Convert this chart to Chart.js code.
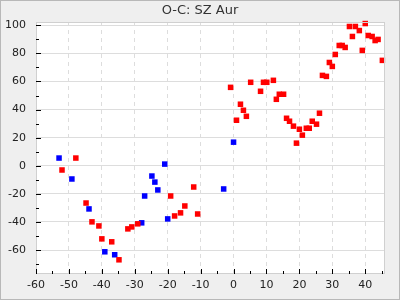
<!DOCTYPE html>
<html>
<head>
<meta charset="utf-8">
<script src="https://cdn.jsdelivr.net/npm/chart.js@4/dist/chart.umd.min.js"></script>
<style>
  html, body { margin: 0; padding: 0; background: #efefef; }
  #wrap { width: 400px; height: 300px; position: relative; }
  canvas { display: block; }
</style>
</head>
<body>
<div id="wrap"><canvas id="c" width="400" height="300"></canvas></div>
<script>
const chartTitle = "O-C: SZ Aur";
const xTickValues = [-60, -50, -40, -30, -20, -10, 0, 10, 20, 30, 40];
const yTickValues = [-60, -40, -20, 0, 20, 40, 60, 80, 100];

const redX = [-52.1, -47.9, -44.8, -43.0, -40.9, -40.0, -37.0, -34.8, -32.1, -30.9, -29.1,
  -19.1, -17.9, -16.1, -14.8, -12.1, -10.9, -0.9, 0.9, 2.1, 3.0, 3.9, 5.2, 8.2, 9.1, 10.1,
  12.1, 13.0, 13.9, 15.2, 16.1, 17.0, 18.2, 19.1, 20.0, 20.9, 22.1, 23.0, 23.9, 25.2, 26.1,
  27.0, 28.2, 29.1, 30.0, 30.9, 32.1, 33.0, 33.9, 35.2, 36.1, 37.0, 38.2, 39.1, 40.0, 40.9,
  42.1, 43.0, 43.9, 45.2];
const redY = [-3.0, 5.5, -26.5, -39.9, -42.8, -52.0, -54.1, -66.9, -44.9, -43.5, -41.3,
  -21.5, -35.7, -33.5, -28.6, -15.1, -34.3, 55.8, 32.4, 43.8, 39.5, 35.2, 59.4, 53.0, 59.4, 59.4,
  60.8, 47.3, 50.9, 50.9, 33.8, 31.7, 28.2, 16.1, 26.0, 21.8, 26.7, 26.7, 31.7, 29.6, 37.4,
  64.3, 63.6, 73.5, 70.7, 79.2, 85.6, 85.6, 84.2, 99.1, 92.0, 99.1, 96.2, 82.1, 101.2, 92.7,
  92.0, 89.1, 89.9, 75.0];
const blueX = [-53.0, -49.1, -43.9, -39.1, -36.1, -27.9, -27.0, -24.8, -23.9, -23.0, -20.9, -20.0, -3.0, 0.0];
const blueY = [5.5, -9.4, -30.7, -61.2, -63.3, -40.6, -21.5, -7.3, -11.6, -17.2, 1.2, -37.8, -16.5, 16.8];

const toPts = (xs, ys) => xs.map((x, i) => ({ x: x, y: ys[i] }));

const FONT = "'DejaVu Sans', sans-serif";

const framePlugin = {
  id: 'frame',
  beforeDraw(chart) {
    const ctx = chart.ctx;
    const a = chart.chartArea;
    ctx.save();
    ctx.fillStyle = '#efefef';
    ctx.fillRect(0, 0, chart.width, chart.height);
    ctx.strokeStyle = '#b8b8b8';
    ctx.lineWidth = 1;
    ctx.strokeRect(0.5, 0.5, chart.width - 1, chart.height - 1);
    ctx.fillStyle = '#ffffff';
    ctx.fillRect(a.left, a.top, a.right - a.left, a.bottom - a.top);
    ctx.fillStyle = '#333333';
    ctx.font = '13px ' + FONT;
    ctx.textAlign = 'center';
    ctx.textBaseline = 'middle';
    ctx.fillText(chartTitle, chart.width / 2, 11);
    ctx.restore();
  },
  afterDraw(chart) {
    const ctx = chart.ctx;
    const a = chart.chartArea;
    const xs = chart.scales.x, ys = chart.scales.y;
    ctx.save();
    ctx.strokeStyle = '#d0d0d0';
    ctx.lineWidth = 1;
    ctx.strokeRect(Math.round(a.left) + 0.5, Math.round(a.top) + 0.5,
      Math.round(a.right - a.left) - 1, Math.round(a.bottom - a.top) - 1);
    ctx.strokeStyle = '#000000';
    ctx.beginPath();
    for (let v = -60; v <= 45; v += 5) {
      const px = Math.round(xs.getPixelForValue(v)) + 0.5;
      const len = (v % 10 === 0) ? 5 : 3;
      ctx.moveTo(px, a.bottom);
      ctx.lineTo(px, a.bottom - len);
    }
    for (let v = -70; v <= 100; v += 10) {
      const py = Math.round(ys.getPixelForValue(v)) + 0.5;
      const len = (v % 20 === 0) ? 5 : 3;
      ctx.moveTo(a.left, py);
      ctx.lineTo(a.left + len, py);
    }
    ctx.stroke();
    ctx.restore();
  }
};

new Chart(document.getElementById('c'), {
  type: 'scatter',
  data: {
    datasets: [
      { label: 'red', data: toPts(redX, redY), backgroundColor: '#ff0000', borderWidth: 0,
        pointStyle: 'rect', pointRadius: 3.9, clip: false },
      { label: 'blue', data: toPts(blueX, blueY), backgroundColor: '#0000ff', borderWidth: 0,
        pointStyle: 'rect', pointRadius: 3.9, clip: false }
    ]
  },
  options: {
    responsive: false,
    animation: false,
    devicePixelRatio: 1,
    layout: { padding: { top: 22, right: 15, left: 0, bottom: 0 } },
    plugins: { legend: { display: false }, title: { display: false }, tooltip: { enabled: false } },
    scales: {
      x: {
        type: 'linear', min: -60, max: 46,
        afterBuildTicks: s => { s.ticks = xTickValues.map(v => ({ value: v })); },
        afterFit: s => { s.height = 26; },
        ticks: { color: '#222', font: { family: FONT, size: 11 }, padding: 5, maxRotation: 0, autoSkip: false },
        grid: { color: '#dddddd', drawTicks: false, lineWidth: 1 },
        border: { display: false, dash: [4, 4] }
      },
      y: {
        type: 'linear', min: -77, max: 102.3,
        afterBuildTicks: s => { s.ticks = yTickValues.map(v => ({ value: v })); },
        afterFit: s => { s.width = 36; },
        ticks: { color: '#222', font: { family: FONT, size: 11 }, padding: 10, autoSkip: false },
        grid: { color: '#dddddd', drawTicks: false, lineWidth: 1 },
        border: { display: false }
      }
    }
  },
  plugins: [framePlugin]
});
</script>
</body>
</html>
